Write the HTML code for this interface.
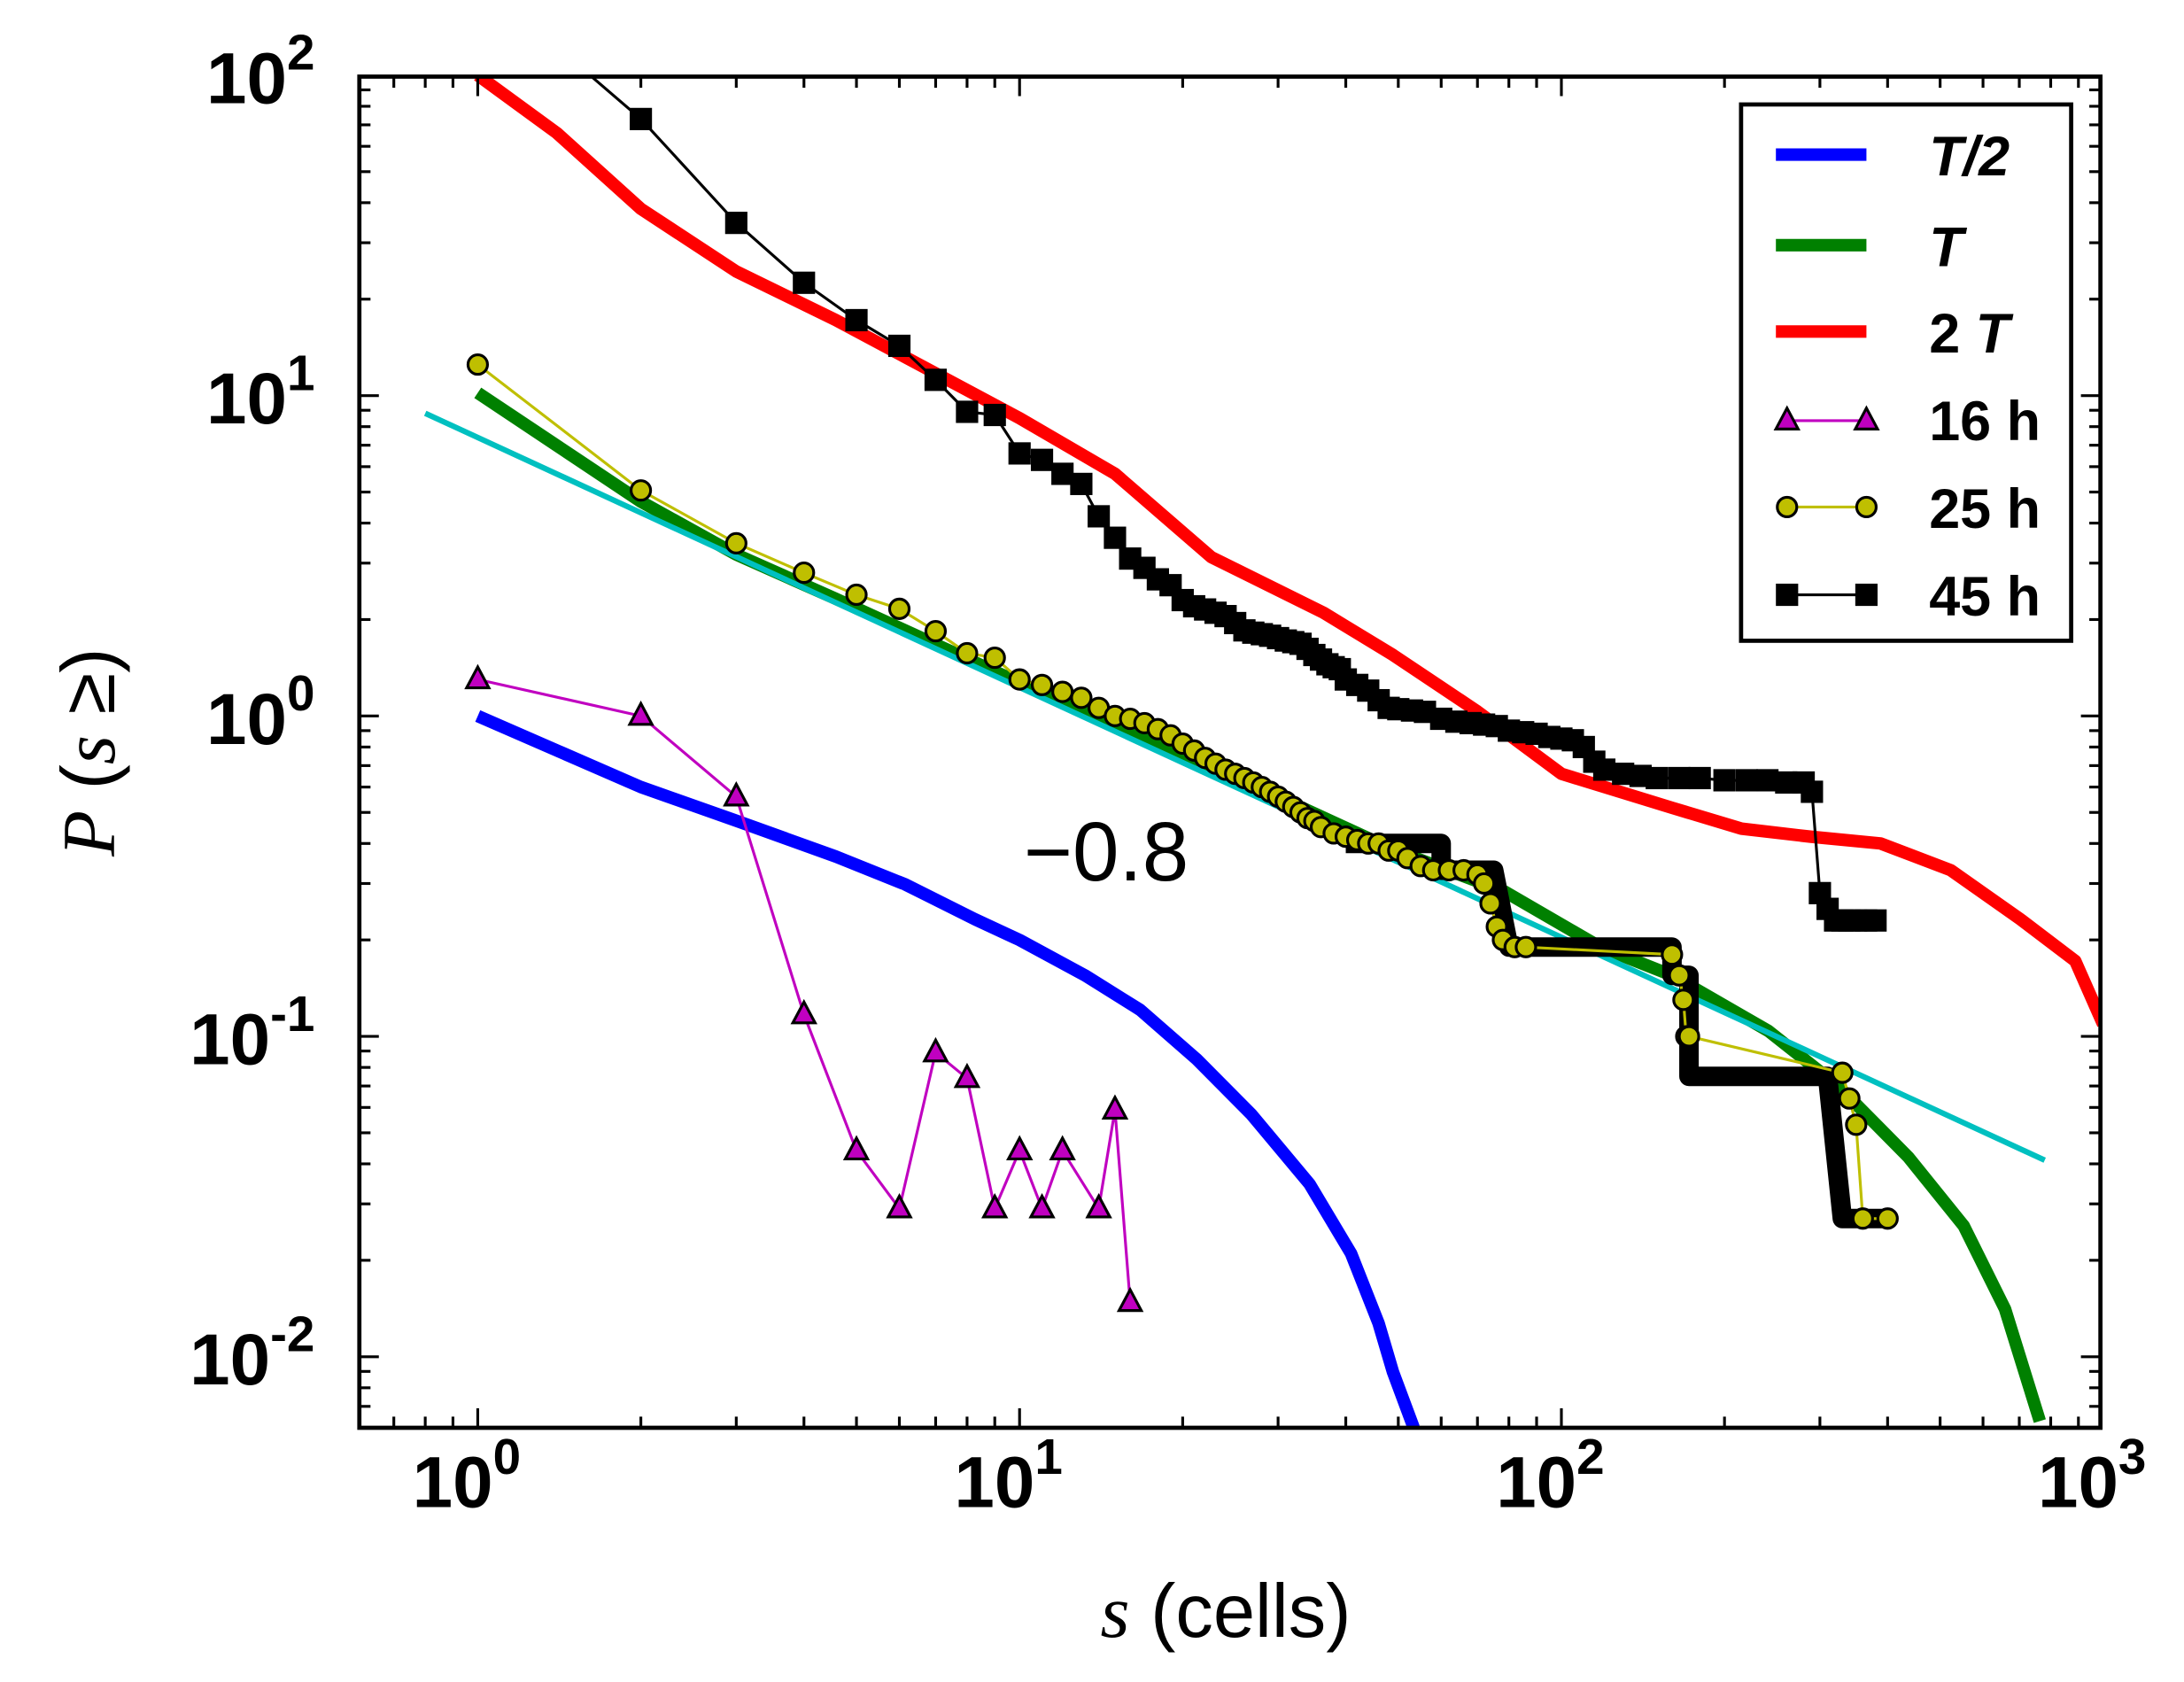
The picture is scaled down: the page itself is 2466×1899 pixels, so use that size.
<!DOCTYPE html>
<html><head><meta charset="utf-8"><style>
html,body{margin:0;padding:0;background:#fff;}
svg{display:block;}
text{font-family:"Liberation Sans",sans-serif;}
</style></head><body>
<svg id="chart" width="2466" height="1899" viewBox="0 0 1568 1207.5" preserveAspectRatio="none" xmlns="http://www.w3.org/2000/svg">
<rect x="0" y="0" width="1568" height="1207.5" fill="#fff"/>
<defs><clipPath id="clip"><rect x="258" y="55" width="1250" height="970"/></clipPath></defs>
<g id="plot" clip-path="url(#clip)"></g>
<g id="axes"></g>
<rect x="258" y="55" width="1250" height="970" fill="none" stroke="#000" stroke-width="3"/>
<text x="735" y="632" font-family="Liberation Serif, serif" font-size="60">−0.8</text>
<text x="880" y="1175" font-size="54" text-anchor="middle"><tspan font-family="Liberation Serif, serif" font-style="italic">s</tspan> (cells)</text>
<text transform="translate(82,540) rotate(-90)" font-size="54" text-anchor="middle"><tspan font-family="Liberation Serif, serif" font-style="italic">P</tspan> (<tspan font-family="Liberation Serif, serif" font-style="italic">s</tspan> ≥)</text>
<g>
<rect x="1250" y="75" width="237" height="385" fill="#fff" stroke="#000" stroke-width="3"/>
<g><line x1="1275" y1="111" x2="1340" y2="111" stroke="#00f" stroke-width="9"/><text x="1385" y="126" font-family="Liberation Serif, serif" font-style="italic" font-weight="bold" font-size="40">T/2</text></g>
<g><line x1="1275" y1="176" x2="1340" y2="176" stroke="#008000" stroke-width="9"/><text x="1385" y="191" font-family="Liberation Serif, serif" font-style="italic" font-weight="bold" font-size="40">T</text></g>
<g><line x1="1275" y1="238" x2="1340" y2="238" stroke="#f00" stroke-width="9"/><text x="1385" y="253" font-family="Liberation Serif, serif" font-weight="bold" font-size="40">2 <tspan font-style="italic">T</tspan></text></g>
<g><line x1="1283" y1="302" x2="1340" y2="302" stroke="#c000c0" stroke-width="2"/><polygon points="1283,293 1275,308 1291,308" fill="#c000c0" stroke="#000" stroke-width="2"/><polygon points="1340,293 1332,308 1348,308" fill="#c000c0" stroke="#000" stroke-width="2"/><text x="1385" y="316" font-family="Liberation Serif, serif" font-weight="bold" font-size="40">16 h</text></g>
<g><line x1="1283" y1="364" x2="1340" y2="364" stroke="#bfbf00" stroke-width="2"/><circle cx="1283" cy="364" r="7" fill="#bfbf00" stroke="#000" stroke-width="2"/><circle cx="1340" cy="364" r="7" fill="#bfbf00" stroke="#000" stroke-width="2"/><text x="1385" y="379" font-family="Liberation Serif, serif" font-weight="bold" font-size="40">25 h</text></g>
<g><line x1="1283" y1="427" x2="1340" y2="427" stroke="#000" stroke-width="2"/><rect x="1275" y="419" width="16" height="16" fill="#000"/><rect x="1332" y="419" width="16" height="16" fill="#000"/><text x="1385" y="442" font-family="Liberation Serif, serif" font-weight="bold" font-size="40">45 h</text></g>
</g>
</svg>
<script>
const xTicks=[0,1,2,3];
const yTicks=[2,1,0,-1,-2];
const halfS=[1,2,3.03,4.58,6.15,8.27,10,13.2,16.7,21.2,26.8,34.3,40.9,46,48.9,53.4];
const halfP=[1.0,0.6,0.468,0.364,0.298,0.232,0.2,0.155,0.121,0.085,0.057,0.0346,0.021,0.0127,0.00896,0.006];
const tS=[1,2,3,4.58,10,21.2,48.9,78.6,118,160,241,324,437,553,659,764];
const tP=[10.2,4.67,3.19,2.32,1.27,0.733,0.383,0.283,0.19,0.155,0.104,0.07,0.042,0.0256,0.0141,0.0063];
const twoS=[1,1.4,2,3,4.58,10,15,22.6,36.4,48.9,69.6,100,160,215,289,388,523,703,888,1000];
const twoP=[100,66,38.3,24.4,17.2,8.5,5.7,3.13,2.1,1.55,1.04,0.66,0.517,0.445,0.42,0.4,0.33,0.232,0.172,0.109];
const fitAmp=7.4, fitExp=-0.78, fitRange=[0.8,780];
const h16S=[1,2,3,4,5,6,7,8,9,10,11,12,14,15,16];
const h16P=[1.3,1.0,0.56,0.117,0.044,0.029,0.089,0.074,0.029,0.044,0.029,0.044,0.029,0.059,0.0148];
const h25S=[1,2,3,4,5,6,7,8,9,10,11,12,13,14,15,16,17,18,19,20,21,22,23,24,25,26,27,28,29,30,31,32,33,34,35,36,38,40,42,44,46,48,50,52,55,58,62,66,70,72,74,76,78,82,86,160,165,168,170,172,330,340,350,360,400];
const h25P=[12.5,5.06,3.46,2.8,2.39,2.16,1.84,1.57,1.52,1.3,1.25,1.19,1.14,1.06,1.0,0.98,0.95,0.91,0.87,0.82,0.78,0.74,0.71,0.68,0.66,0.64,0.62,0.6,0.58,0.56,0.54,0.52,0.5,0.48,0.47,0.45,0.43,0.42,0.41,0.4,0.4,0.38,0.38,0.36,0.34,0.33,0.33,0.33,0.32,0.3,0.26,0.22,0.2,0.19,0.19,0.18,0.155,0.13,0.1,0.1,0.077,0.064,0.053,0.027,0.027];
const tailS=[40,60,60,75,80,160,160,172,172,310,330,400];
const tailP=[0.4,0.4,0.33,0.33,0.19,0.19,0.155,0.155,0.075,0.075,0.027,0.027];
const h45S=[1,2,3,4,5,6,7,8,9,10,11,12,13,14,15,16,17,18,19,20,21,22,23,24,25,26,27,28,29,30,31,32,33,34,35,36,37,38,39,40,42,44,46,48,50,53,56,60,64,68,72,76,80,85,90,95,100,105,110,115,120,130,140,150,165,180,200,220,240,260,280,290,300,310,320,330,340,350,365,380];
const h45P=[200,73,34.6,22.5,17.2,14.3,11.2,8.9,8.7,6.6,6.3,5.7,5.3,4.2,3.6,3.1,2.9,2.67,2.56,2.3,2.2,2.15,2.1,2.05,1.95,1.85,1.82,1.8,1.78,1.75,1.72,1.7,1.68,1.62,1.55,1.5,1.45,1.42,1.4,1.3,1.25,1.2,1.12,1.06,1.05,1.04,1.03,0.98,0.96,0.95,0.94,0.93,0.9,0.89,0.88,0.86,0.85,0.84,0.8,0.72,0.68,0.66,0.65,0.64,0.64,0.64,0.63,0.63,0.63,0.62,0.62,0.58,0.28,0.25,0.23,0.23,0.23,0.23,0.23,0.23];

const NS='http://www.w3.org/2000/svg';
const X=s=>343+389*Math.log10(s);
const Y=p=>514-230*Math.log10(p);
const plot=document.getElementById('plot'), axes=document.getElementById('axes');
function mk(tag,attrs,parent){const e=document.createElementNS(NS,tag);for(const k in attrs)e.setAttribute(k,attrs[k]);parent.appendChild(e);return e;}
function pts(S,P){return S.map((s,i)=>X(s).toFixed(1)+','+Y(P[i]).toFixed(1)).join(' ');}
function line(S,P,color,w,name){const e=mk('polyline',{points:pts(S,P),fill:'none',stroke:color,'stroke-width':w,'stroke-linejoin':'round'},plot);

}

line(twoS,twoP,'#f00',9,'series-2t-line');
line(tS,tP,'#008000',9,'series-t-line');
line(halfS,halfP,'#00f',9,'series-t-half-line');
const fs=[fitRange[0],fitRange[1]];
line(fs,fs.map(s=>fitAmp*Math.pow(s,fitExp)),'#00c0c0',4,'fit-line');
line(tailS,tailP,'#000',14,'series-25h-dense-tail');
line(h16S,h16P,'#c000c0',2,'series-16h-line');
line(h25S,h25P,'#bfbf00',2,'series-25h-line');
line(h45S,h45P,'#000',2,'series-45h-line');
h16S.forEach((s,i)=>{const x=X(s),y=Y(h16P[i]);
const m=mk('polygon',{points:`${x},${y-9} ${x-8},${y+6} ${x+8},${y+6}`,fill:'#c000c0',stroke:'#000','stroke-width':2},plot);

});
h25S.forEach((s,i)=>{const m=mk('circle',{cx:X(s),cy:Y(h25P[i]),r:7,fill:'#bfbf00',stroke:'#000','stroke-width':2},plot);

});
h45S.forEach((s,i)=>{const m=mk('rect',{x:X(s)-8,y:Y(h45P[i])-8,width:16,height:16,fill:'#000'},plot);

});

function tick(x1,y1,x2,y2){mk('line',{x1,y1,x2,y2,stroke:'#000','stroke-width':2},axes);}
for(let d=-1;d<=3;d++)for(let m=1;m<10;m++){const s=m*Math.pow(10,d);const x=X(s);if(x<258||x>1508)continue;const L=m===1?14:8;tick(x,1025,x,1025-L);tick(x,55,x,55+L);}
for(let d=-3;d<=2;d++)for(let m=1;m<10;m++){const p=m*Math.pow(10,d);const y=Y(p);if(y<55||y>1025)continue;const L=m===1?14:8;tick(258,y,258+L,y);tick(1508,y,1508-L,y);}
xTicks.forEach(e=>{const t=mk('text',{x:X(Math.pow(10,e))-8,y:1082,'font-size':52,'font-weight':'bold','text-anchor':'middle'},axes);t.textContent='10';const sp=mk('tspan',{dy:-24,'font-size':36},t);sp.textContent=String(e);

});
yTicks.forEach(e=>{const t=mk('text',{x:226,y:Y(Math.pow(10,e))+20,'font-size':52,'font-weight':'bold','text-anchor':'end'},axes);t.textContent='10';const sp=mk('tspan',{dy:-24,'font-size':36},t);sp.textContent=String(e);

});
</script>
</body></html>
